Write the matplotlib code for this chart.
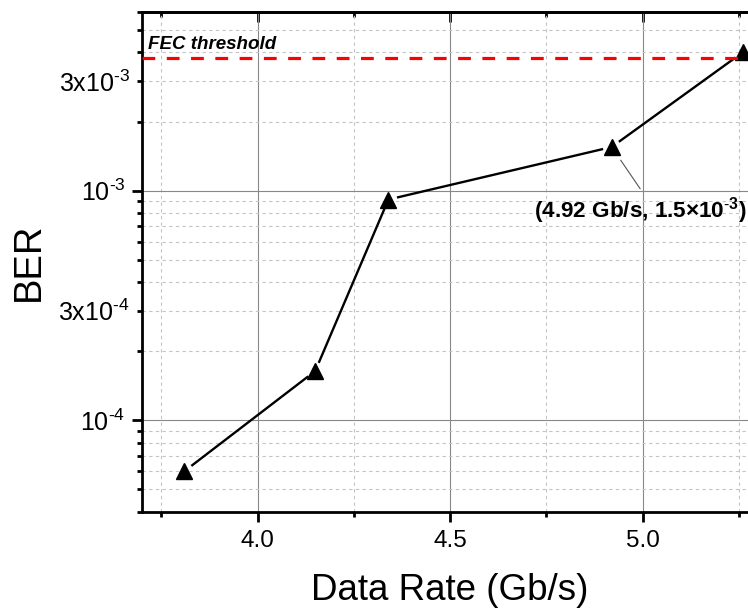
import numpy as np
import matplotlib
matplotlib.use("Agg")
import matplotlib.pyplot as plt
from matplotlib.ticker import MultipleLocator, LogLocator, FuncFormatter, NullFormatter

plt.rcParams['font.family'] = ['Liberation Sans', 'DejaVu Sans']
plt.rcParams['mathtext.fontset'] = 'custom'
plt.rcParams['mathtext.rm'] = 'Liberation Sans'
plt.rcParams['mathtext.it'] = 'Liberation Sans:italic'
plt.rcParams['mathtext.bf'] = 'Liberation Sans:bold'
plt.rcParams['mathtext.default'] = 'regular'

# data
rate = [3.81, 4.15, 4.34, 4.92, 5.26]          # Gb/s
ber = [6.0e-5, 1.64e-4, 9.15e-4, 1.55e-3, 4.0e-3]
fec_threshold = 3.8e-3
note_idx = 3
note_text = r"(4.92 Gb/s, 1.5×$\mathbf{10^{\text{-}3}}$)"

fig = plt.figure(figsize=(7.48, 6.08), dpi=100)
# axes runs a little past the right edge, like the cropped original
ax = fig.add_axes([142 / 748, (608 - 511.7) / 608, (758 - 142) / 748, (511.7 - 12) / 608])

ax.set_yscale('log')
ax.set_xlim(3.7, 5.3)
ax.set_ylim(4e-5, 6e-3)

ax.xaxis.set_major_locator(MultipleLocator(0.5))
ax.xaxis.set_minor_locator(MultipleLocator(0.25))
ax.yaxis.set_major_locator(LogLocator(base=10))
ax.yaxis.set_minor_locator(LogLocator(base=10, subs=np.arange(2, 10)))


def major_fmt(v, pos):
    e = int(round(np.log10(v)))
    return r"$10^{\text{-}%d}$" % abs(e)


def minor_fmt(v, pos):
    e = int(np.floor(np.log10(v) + 1e-9))
    m = v / 10 ** e
    if abs(m - 3) < 0.01:
        return r"$3x10^{\text{-}%d}$" % abs(e)
    return ""


ax.yaxis.set_major_formatter(FuncFormatter(major_fmt))
ax.yaxis.set_minor_formatter(FuncFormatter(minor_fmt))
ax.xaxis.set_minor_formatter(NullFormatter())

# grid
ax.grid(which='major', color='#888888', lw=0.8, ls='-')
ax.grid(which='minor', color='#c4c4c4', lw=0.8, ls=(0, (3, 3)))
ax.set_axisbelow(True)

# spines and ticks
for s in ['left', 'bottom', 'top']:
    ax.spines[s].set_linewidth(2)
ax.spines['right'].set_visible(False)
ax.tick_params(which='both', labelsize=17.5, width=2, direction='out', top=False)
ax.tick_params(axis='y', which='both', labelsize=18)
ax.tick_params(which='major', length=7, pad=5)
ax.tick_params(which='minor', length=3.8, pad=5)
ax.tick_params(axis='x', which='both', pad=6)

# top axis with inward ticks, no labels
top = ax.secondary_xaxis('top')
top.xaxis.set_major_locator(MultipleLocator(0.5))
top.xaxis.set_minor_locator(MultipleLocator(0.25))
top.tick_params(which='both', direction='in', width=2, color='black', labeltop=False)
top.tick_params(which='major', length=7)
top.tick_params(which='minor', length=3.8)
top.spines['top'].set_linewidth(2)

# line with small gaps at the symbols
pts = ax.transData.transform(np.column_stack([rate, ber]))
gap = 10
inv = ax.transData.inverted()
for p, q in zip(pts[:-1], pts[1:]):
    d = q - p
    u = d / np.hypot(*d)
    seg = inv.transform(np.array([p + u * gap, q - u * gap]))
    ax.plot(seg[:, 0], seg[:, 1], color='black', lw=1.7, zorder=3)
ax.plot(rate, ber, ls='none', marker='^', ms=11, color='black', zorder=4)

# FEC threshold
ax.axhline(fec_threshold, color='red', lw=2.3, ls=(0, (4, 3.6)), zorder=5)
ax.annotate("FEC threshold", xy=(0, fec_threshold), xycoords=ax.get_yaxis_transform(),
            xytext=(4.5, 6), textcoords='offset points', va='baseline', ha='left',
            fontsize=13.5, fontweight='bold', fontstyle='italic', zorder=6)

# point label
ax.annotate(note_text, xy=(rate[note_idx], ber[note_idx]), xytext=(20.5, -35),
            textcoords='offset points', ha='center', va='top',
            fontsize=16.2, fontweight='bold', annotation_clip=False,
            arrowprops=dict(arrowstyle='-', color='#555555', lw=0.8,
                            shrinkA=0, shrinkB=11.5, relpos=(0.5, 1.22), patchA=None))

ax.set_xlabel("Data Rate (Gb/s)", fontsize=26.5, labelpad=15)
ax.set_ylabel("BER", fontsize=27.5, labelpad=8)

fig.savefig("out.png", dpi=100)
